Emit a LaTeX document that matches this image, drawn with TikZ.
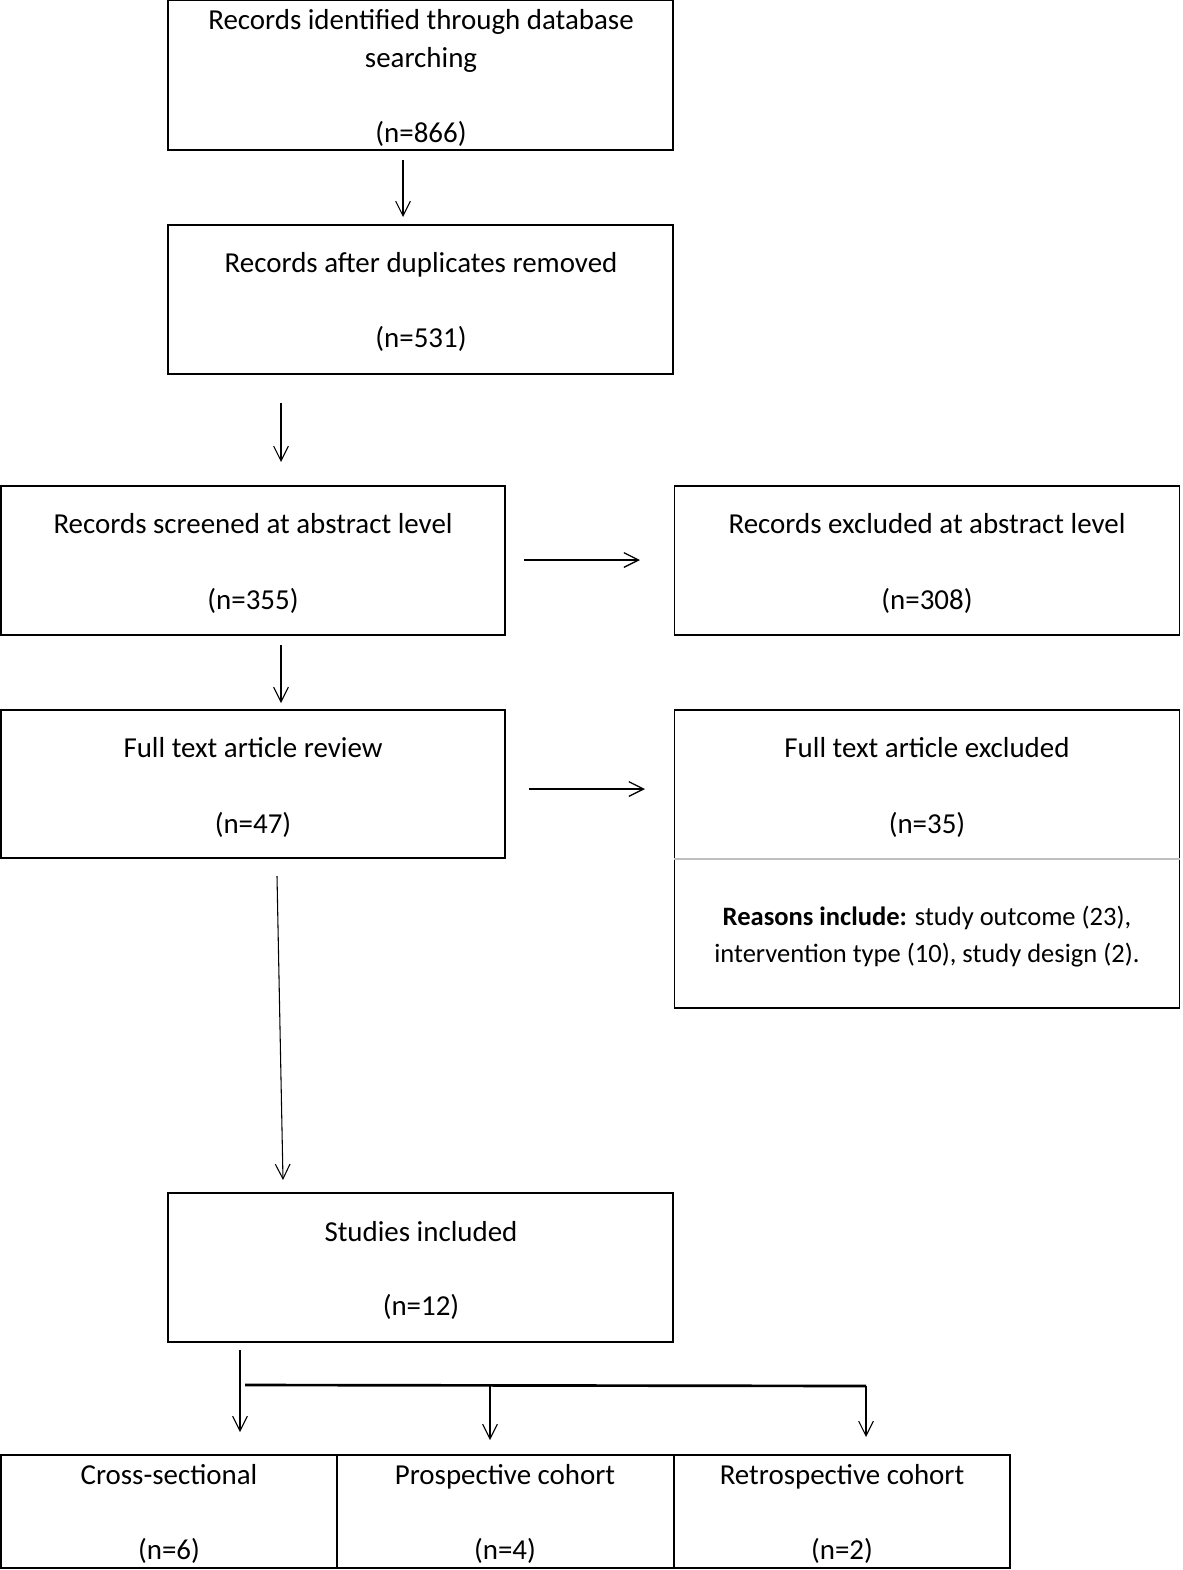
\documentclass[tikz,border=0pt]{standalone}
\usepackage{fontspec}
\setmainfont{Carlito}
\usetikzlibrary{arrows.meta}
\begin{document}
\begin{tikzpicture}[x=0.75pt,y=-0.75pt,
  box/.style={draw=black,line width=1.4pt,inner sep=0pt,fill=none},
  txt/.style={inner sep=0pt,align=center,text height=0.72em,text depth=0.22em,font=\fontsize{21.7pt}{28.5pt}\selectfont},
  smalltxt/.style={inner sep=0pt,align=center,font=\fontsize{19.9pt}{27.7pt}\selectfont},
  arr/.style={draw=black,line width=0.8pt,-{Straight Barb[length=11pt,width=11pt,line width=0.8pt]}},
  arrh/.style={draw=black,line width=1.2pt,-{Straight Barb[length=11pt,width=11pt,line width=1pt]}}]
\useasboundingbox (0,0) rectangle (1182,1570);
% boxes
\node[box,minimum width=505*0.75pt,minimum height=150*0.75pt] (b1) at (420.5,75) {};
\node[box,minimum width=505*0.75pt,minimum height=149*0.75pt] (b2) at (420.5,299.5) {};
\node[box,minimum width=504*0.75pt,minimum height=149*0.75pt] (b3) at (253,560.5) {};
\node[box,minimum width=505*0.75pt,minimum height=149*0.75pt] (b4) at (927,560.5) {};
\node[box,minimum width=504*0.75pt,minimum height=148*0.75pt] (b5) at (253,784) {};
\node[box,minimum width=505*0.75pt,minimum height=298*0.75pt] (b6) at (927,859) {};
\node[box,minimum width=505*0.75pt,minimum height=149*0.75pt] (b7) at (420.5,1267.5) {};
\node[box,minimum width=336*0.75pt,minimum height=113*0.75pt] (c1) at (169,1511.5) {};
\node[box,minimum width=337*0.75pt,minimum height=113*0.75pt] (c2) at (505.5,1511.5) {};
\node[box,minimum width=336*0.75pt,minimum height=113*0.75pt] (c3) at (842,1511.5) {};
\draw[draw=black!25,line width=0.8pt] (b6.west |- 0,859) -- (b6.east |- 0,859);
% texts
\node[txt] (t1a) at (421,26) {Records identified through database};
\node[txt] (t1b) at (421,64) {searching};
\node[txt] (t1c) at (421,139) {(n=866)};
\node[txt] (t2a) at (421,269) {Records after duplicates removed};
\node[txt] (t2b) at (421,344) {(n=531)};
\node[txt] (t3a) at (253,530) {Records screened at abstract level};
\node[txt] (t3b) at (253,606) {(n=355)};
\node[txt] (t4a) at (927,530) {Records excluded at abstract level};
\node[txt] (t4b) at (927,606) {(n=308)};
\node[txt] (t5a) at (253,754) {Full text article review};
\node[txt] (t5b) at (253,830) {(n=47)};
\node[txt] (t6a) at (927,754) {Full text article excluded};
\node[txt] (t6b) at (927,830) {(n=35)};
\node[smalltxt] (t6c) at (927,937) {\textbf{Reasons include:} study outcome (23),\\intervention type (10), study design (2).};
\node[txt] (t7a) at (421,1238) {Studies included};
\node[txt] (t7b) at (421,1312) {(n=12)};
\node[txt] (tc1a) at (169,1481) {Cross-sectional};
\node[txt] (tc1b) at (169,1556) {(n=6)};
\node[txt] (tc2a) at (505,1481) {Prospective cohort};
\node[txt] (tc2b) at (505,1556) {(n=4)};
\node[txt] (tc3a) at (842,1481) {Retrospective cohort};
\node[txt] (tc3b) at (842,1556) {(n=2)};
% connector coordinates
\coordinate (a1s) at (403,160); \coordinate (a1e) at (403,217);
\coordinate (a2s) at (281,403); \coordinate (a2e) at (281,462);
\coordinate (h1s) at (524,560); \coordinate (h1e) at (640,560);
\coordinate (a3s) at (281,645); \coordinate (a3e) at (281,703);
\coordinate (h2s) at (529,789); \coordinate (h2e) at (645,789);
\coordinate (a4s) at (277,876); \coordinate (a4e) at (283,1180);
\coordinate (a5s) at (240,1350); \coordinate (a5e) at (240,1432);
\coordinate (hl) at (245,1385); \coordinate (hr) at (866,1386);
\coordinate (hm) at (490,1385);
\coordinate (a6e) at (490,1440); \coordinate (a7e) at (866,1437);
\draw[arr] (a1s) -- (a1e);
\draw[arr] (a2s) -- (a2e);
\draw[arrh] (h1s) -- (h1e);
\draw[arr] (a3s) -- (a3e);
\draw[arrh] (h2s) -- (h2e);
\draw[arr] (a4s) -- (a4e);
\draw[arr] (a5s) -- (a5e);
\draw[draw=black,line width=2pt] (hl) -- (hr);
\draw[arr] (hm) -- (a6e);
\draw[arr] (hr) -- (a7e);
\end{tikzpicture}
\end{document}
